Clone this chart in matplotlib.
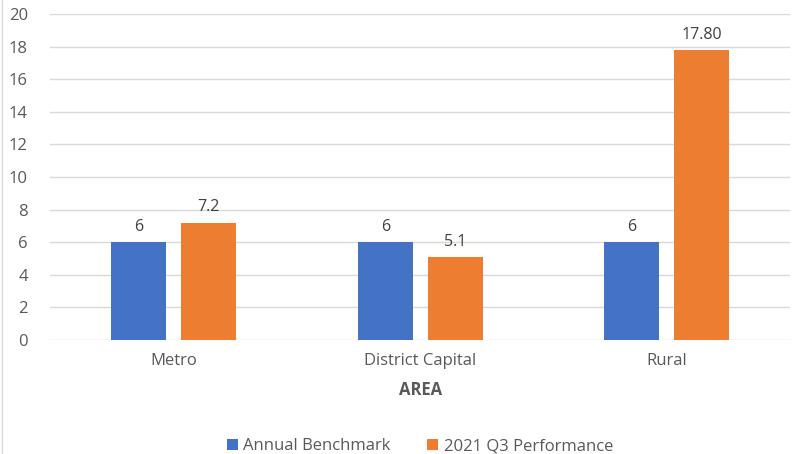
import numpy as np
import matplotlib.pyplot as plt
from matplotlib.lines import Line2D

plt.rcParams['font.family'] = ['Open Sans', 'DejaVu Sans']

areas = ["Metro", "District Capital", "Rural"]
benchmark = [6, 6, 6]
q3_perf = [7.2, 5.1, 17.8]
bench_labels = ["6", "6", "6"]
perf_labels = ["7.2", "5.1", "17.80"]
yticks = [0, 2, 4, 6, 8, 10, 12, 14, 16, 18, 20]

blue = "#4472C4"
orange = "#ED7D31"
grey = "#595959"

fig = plt.figure(figsize=(7.95, 4.54), dpi=100)
ax = fig.add_axes([0.063, 0.251, 0.931, 0.718])

x = np.arange(len(areas))
w = 0.223
off = (w + 0.06) / 2
b1 = ax.bar(x - off, benchmark, w, color=blue, label="Annual Benchmark", zorder=3)
b2 = ax.bar(x + off, q3_perf, w, color=orange, label="2021 Q3 Performance", zorder=3)

for rect, lab in zip(b1, bench_labels):
    ax.text(rect.get_x() + rect.get_width() / 2, rect.get_height() + 0.45, lab,
            ha="center", va="bottom", fontsize=11.5, color="#404040")
for rect, lab in zip(b2, perf_labels):
    ax.text(rect.get_x() + rect.get_width() / 2, rect.get_height() + 0.45, lab,
            ha="center", va="bottom", fontsize=11.5, color="#404040")

ax.set_xlim(-0.5, 2.5)
ax.set_ylim(0, 20)
ax.set_yticks(yticks)
ax.set_xticks(x)
ax.set_xticklabels(areas)
ax.yaxis.grid(True, color="#D9D9D9", linewidth=1, zorder=0)
for s in ax.spines.values():
    s.set_visible(False)
ax.tick_params(axis="both", length=0, labelsize=12, colors=grey)
ax.tick_params(axis="y", pad=16)
ax.tick_params(axis="x", pad=9)
ax.set_xlabel("AREA", fontsize=12, fontweight="bold", color=grey, labelpad=9)

ax.legend(loc="upper center", bbox_to_anchor=(0.5, -0.255), ncol=2, frameon=False,
          fontsize=12, labelcolor=grey, handlelength=0.65, handleheight=0.7,
          handletextpad=0.35, columnspacing=2.2)

fig.add_artist(Line2D([0.003, 0.003], [0, 1], color="#D9D9D9", linewidth=1))

fig.savefig("out.png", dpi=100)
